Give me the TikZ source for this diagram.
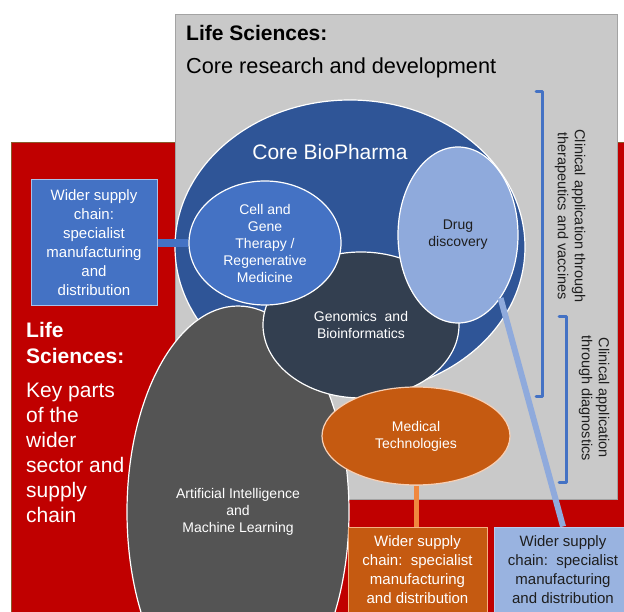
\documentclass[tikz,border=0pt]{standalone}
\usepackage{fontspec}
\setmainfont{Liberation Sans}
\usetikzlibrary{shapes.geometric}
\definecolor{lsred}{HTML}{C00000}
\definecolor{redborder}{HTML}{8A5A2B}
\definecolor{lsgray}{HTML}{C9C9C9}
\definecolor{grayborder}{HTML}{A3A3A3}
\definecolor{biopharma}{HTML}{2F5597}
\definecolor{cellblue}{HTML}{4472C4}
\definecolor{drugblue}{HTML}{8FAADC}
\definecolor{genom}{HTML}{333F50}
\definecolor{aigray}{HTML}{545454}
\definecolor{medorange}{HTML}{C55A11}
\definecolor{orangeline}{HTML}{F0883E}
\definecolor{orangeborder}{HTML}{F4B183}
\definecolor{lightborder}{HTML}{A9C1EA}
\definecolor{rboxfill}{HTML}{99B3E0}
\definecolor{rboxborder}{HTML}{B8CBEC}
\definecolor{darktext}{HTML}{1E1E1E}
\tikzset{
  blob/.style={ellipse, draw=white, line width=1.2pt, inner sep=0pt, align=center,
    text=white, font=\fontsize{14}{17}\selectfont},
  boxnode/.style={rectangle, inner sep=0pt, line width=1pt, align=center,
    font=\fontsize{15}{19}\selectfont},
  bracket/.style={draw=cellblue, line width=3pt, line join=round, line cap=round},
  sidetext/.style={rotate=-90, align=center, text=darktext, inner sep=0pt,
    font=\fontsize{14.5}{17}\selectfont},
}
\begin{document}
\begin{tikzpicture}[x=1pt,y=-1pt]
\useasboundingbox (0,0) rectangle (624,612);
\clip (0,0) rectangle (624,612);
\fill[white] (0,0) rectangle (624,612);
% background panels
\draw[fill=lsred, draw=redborder, line width=1pt] (11,143) rectangle (640,640);
\draw[fill=lsgray, draw=grayborder, line width=1pt] (175,15) rectangle (617,499);
% core biopharma
\node[blob, fill=biopharma, minimum width=350pt, minimum height=294pt] (bio) at (350,247) {};
\node[text=white, inner sep=0pt, font=\fontsize{21}{25}\selectfont] (biolabel) at (330,152) {Core BioPharma};
% AI
\node[blob, fill=aigray, minimum width=222pt, minimum height=412pt] (ai) at (238,512)
  {Artificial Intelligence\\and\\Machine Learning};
% genomics
\node[blob, fill=genom, minimum width=196pt, minimum height=146pt] (gen) at (361,325)
  {Genomics\ \ and\\Bioinformatics};
% cell and gene
\node[blob, fill=cellblue, minimum width=152pt, minimum height=124pt] (cell) at (265,243)
  {Cell and\\Gene\\Therapy /\\Regenerative\\Medicine};
% left supply box
\node[boxnode, fill=cellblue, draw=lightborder, text=white, minimum width=126pt, minimum height=126pt] (lbox) at (94,243)
  {Wider supply\\chain:\\specialist\\manufacturing\\and\\distribution};
\draw[cellblue, line width=8pt] (lbox.east) -- (cell.west);
% drug discovery
\node[blob, fill=drugblue, text=darktext, minimum width=120pt, minimum height=176pt] (drug) at (458,235)
  {Drug\\discovery};
% right supply box
\node[boxnode, fill=rboxfill, draw=rboxborder, text=darktext, minimum width=138pt, minimum height=86pt] (rbox) at (563,570)
  {Wider supply\\chain:\ \ specialist\\manufacturing\\and distribution};
\draw[drugblue, line width=6pt] (drug.-56) -- (rbox.north);
% medical technologies
\node[blob, fill=medorange, draw=orangeborder!60!white, minimum width=188pt, minimum height=98pt] (med) at (416,436)
  {Medical\\Technologies};
% orange supply box
\node[boxnode, fill=medorange, draw=orangeborder, text=white, minimum width=139pt, minimum height=86pt] (obox) at (417.5,570)
  {Wider supply\\chain:\ \ specialist\\manufacturing\\and distribution};
\draw[orangeline, line width=5pt] (med.south) -- (med.south |- obox.north);
% brackets
\draw[bracket] (536,92) -- (542,92) -- (542,396) -- (536,396);
\draw[bracket] (559,317) -- (566,317) -- (566,482) -- (559,482);
\node[sidetext] (ther) at (570,216) {Clinical application through\\therapeutics and vaccines};
\node[sidetext] (diag) at (594,398) {Clinical application\\through diagnostics};
% titles
\node[anchor=base west, inner sep=0pt, font=\bfseries\fontsize{21}{25}\selectfont] (t1) at (186,41) {Life Sciences:};
\node[anchor=base west, inner sep=0pt, font=\fontsize{21.7}{26}\selectfont] (t2) at (186,74) {Core research and development};
\node[anchor=base west, inner sep=0pt, align=left, text=white, font=\bfseries\fontsize{21}{26}\selectfont] (l1) at (26,363) {Life\\Sciences:};
\node[anchor=base west, inner sep=0pt, align=left, text=white, font=\fontsize{21}{25}\selectfont] (l2) at (26,522) {Key parts\\of the\\wider\\sector and\\supply\\chain};
\end{tikzpicture}
\end{document}
